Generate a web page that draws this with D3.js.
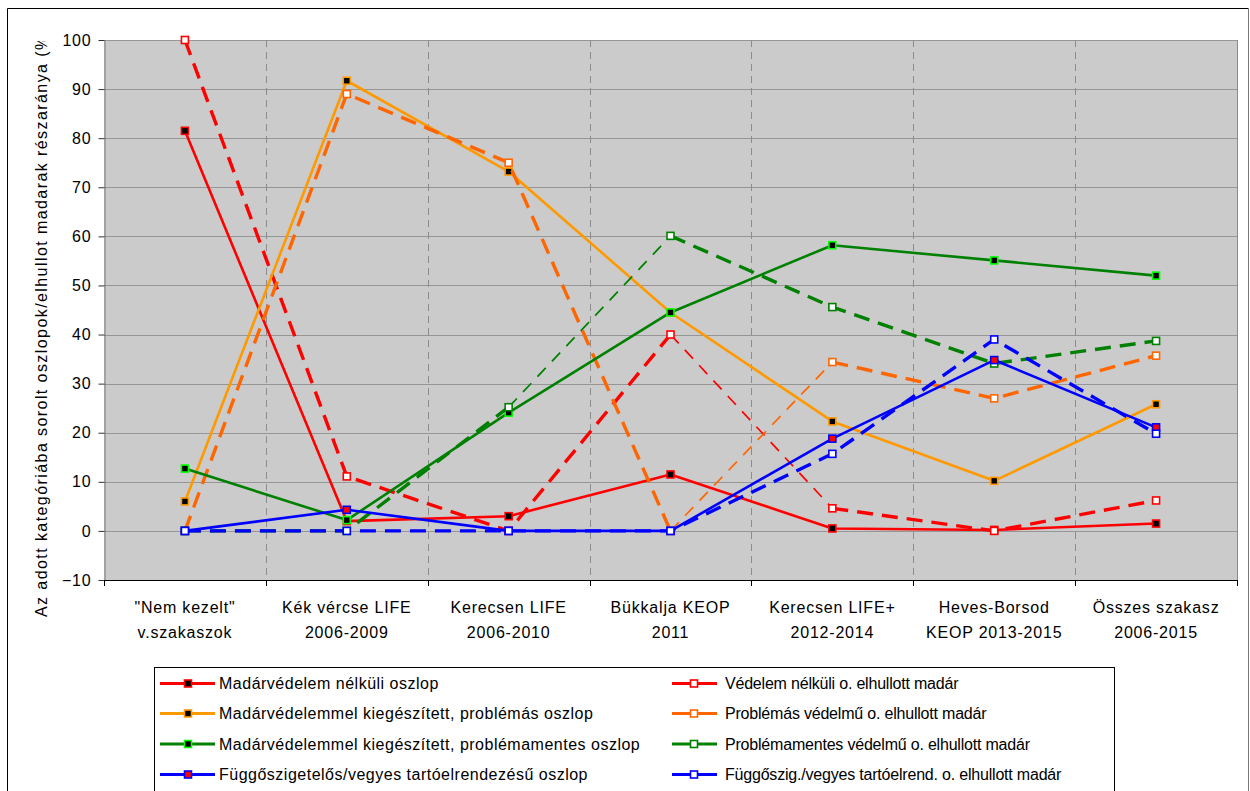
<!DOCTYPE html>
<html>
<head>
<meta charset="utf-8">
<script src="https://cdn.jsdelivr.net/npm/d3@7"></script>
<style>
  html, body { margin: 0; padding: 0; background: #fff; }
  svg { display: block; font-family: "Liberation Sans", Arial, sans-serif; }
</style>
</head>
<body>
<svg id="chart" width="1250" height="791"></svg>
<script>
// ---- data ----
const catLine1 = ['"Nem kezelt"', 'Kék vércse LIFE', 'Kerecsen LIFE', 'Bükkalja KEOP', 'Kerecsen LIFE+', 'Heves-Borsod', 'Összes szakasz'];
const catLine2 = ['v.szakaszok', '2006-2009', '2006-2010', '2011', '2012-2014', 'KEOP 2013-2015', '2006-2015'];
const yTicks = [-10, 0, 10, 20, 30, 40, 50, 60, 70, 80, 90, 100];

const seriesNames = [
  'Madárvédelem nélküli oszlop',
  'Védelem nélküli o. elhullott madár',
  'Madárvédelemmel kiegészített, problémás oszlop',
  'Problémás védelmű o. elhullott madár',
  'Madárvédelemmel kiegészített, problémamentes oszlop',
  'Problémamentes védelmű o. elhullott madár',
  'Függőszigetelős/vegyes tartóelrendezésű oszlop',
  'Függőszig./vegyes tartóelrend. o. elhullott madár'
];

const polesNoProtection   = [81.5, 2.0, 3.0, 11.5, 0.5, 0.2, 1.5];
const birdsNoProtection   = [100, 11.1, 0, 40.0, 4.6, 0, 6.2];
const polesProblematic    = [6.0, 91.7, 73.2, 44.5, 22.3, 10.2, 25.8];
const birdsProblematic    = [0, 89.0, 75.0, 0, 34.4, 27.0, 35.7];
const polesProblemFree    = [12.7, 2.2, 24.1, 44.5, 58.2, 55.1, 52.0];
const birdsProblemFree    = [0, 0, 25.2, 60.1, 45.6, 34.1, 38.7];
const polesSuspension     = [0, 4.3, 0, 0, 18.8, 34.8, 21.1];
const birdsSuspension     = [0, 0, 0, 0, 15.7, 39.0, 19.8];

const seriesValues = [
  polesNoProtection, birdsNoProtection,
  polesProblematic, birdsProblematic,
  polesProblemFree, birdsProblemFree,
  polesSuspension, birdsSuspension
];

// ---- styles (per series) ----
const seriesStyles = [
  { color: '#ff0000', dashed: false, fill: '#000000', edge: '#ff0000', thin: [] },
  { color: '#ff0000', dashed: true,  fill: '#ffffff', edge: '#ff0000', thin: [3] },
  { color: '#ff9900', dashed: false, fill: '#000000', edge: '#ff9900', thin: [] },
  { color: '#ff6600', dashed: true,  fill: '#ffffff', edge: '#ff6600', thin: [3] },
  { color: '#008000', dashed: false, fill: '#000000', edge: '#00ff00', thin: [] },
  { color: '#008000', dashed: true,  fill: '#ffffff', edge: '#008000', thin: [2] },
  { color: '#0000ff', dashed: false, fill: '#ff0000', edge: '#0000ff', thin: [] },
  { color: '#0000ff', dashed: true,  fill: '#ffffff', edge: '#0000ff', thin: [] }
];

const plot = { left: 104, right: 1237, top: 40, bottom: 580 };
const svg = d3.select('#chart');

// chart frame
svg.append('rect').attr('width', 1250).attr('height', 791).attr('fill', '#fff');
svg.append('line').attr('x1', 7.5).attr('x2', 1248.5).attr('y1', 8.5).attr('y2', 8.5).attr('stroke', '#000');
svg.append('line').attr('x1', 7.5).attr('x2', 7.5).attr('y1', 8.5).attr('y2', 791).attr('stroke', '#000');
svg.append('line').attr('x1', 1248.5).attr('x2', 1248.5).attr('y1', 8.5).attr('y2', 791).attr('stroke', '#777');

// scales
const x = d3.scaleBand().domain(d3.range(catLine1.length)).range([plot.left, plot.right]).padding(0);
const cx = i => x(i) + x.bandwidth() / 2;
const y = d3.scaleLinear().domain([-10, 100]).range([plot.bottom, plot.top]);

// plot area
svg.append('rect')
  .attr('x', plot.left).attr('y', plot.top)
  .attr('width', plot.right - plot.left).attr('height', plot.bottom - plot.top)
  .attr('fill', '#cbcbcb');

// horizontal gridlines
svg.append('g').selectAll('line').data(yTicks.filter(v => v > -10)).join('line')
  .attr('x1', plot.left).attr('x2', plot.right)
  .attr('y1', d => Math.round(y(d)) + 0.5).attr('y2', d => Math.round(y(d)) + 0.5)
  .attr('stroke', '#969696').attr('stroke-width', 1);

// vertical dashed gridlines between categories
svg.append('g').selectAll('line').data(d3.range(1, catLine1.length)).join('line')
  .attr('x1', d => Math.round(x(d)) + 0.5).attr('x2', d => Math.round(x(d)) + 0.5)
  .attr('y1', plot.top).attr('y2', plot.bottom)
  .attr('stroke', '#8c8c8c').attr('stroke-width', 1).attr('stroke-dasharray', '7,5');

// right border of plot area
svg.append('line').attr('x1', plot.right + 0.5).attr('x2', plot.right + 0.5)
  .attr('y1', plot.top).attr('y2', plot.bottom).attr('stroke', '#8c8c8c');

// y axis
const yAxis = svg.append('g')
  .attr('transform', `translate(${plot.left + 0.5},0)`)
  .call(d3.axisLeft(y).tickValues(yTicks).tickSize(6).tickPadding(7).tickSizeOuter(0));
yAxis.select('.domain').attr('stroke', '#7a7a7a');
yAxis.selectAll('.tick line').attr('stroke', '#333');
yAxis.selectAll('.tick text')
  .attr('font-size', 16).attr('fill', '#000')
  .attr('font-family', '"Liberation Sans", Arial, sans-serif')
  .style('letter-spacing', '0.8px');

// x axis (line, boundary ticks and two-line labels)
const xg = svg.append('g');
xg.append('line').attr('x1', plot.left).attr('x2', plot.right + 1)
  .attr('y1', plot.bottom + 0.5).attr('y2', plot.bottom + 0.5).attr('stroke', '#000');
const bounds = d3.range(catLine1.length + 1).map(i => i < catLine1.length ? x(i) : plot.right);
xg.selectAll('line.b').data(bounds).join('line').attr('class', 'b')
  .attr('x1', d => Math.round(d) + 0.5).attr('x2', d => Math.round(d) + 0.5)
  .attr('y1', plot.bottom).attr('y2', plot.bottom + 6).attr('stroke', '#000');
const xl = xg.selectAll('text').data(d3.range(catLine1.length)).join('text')
  .attr('text-anchor', 'middle').attr('font-size', 16).attr('fill', '#000')
  .style('letter-spacing', '0.8px');
xl.append('tspan').attr('x', d => cx(d)).attr('y', 613).text(d => catLine1[d]);
xl.append('tspan').attr('x', d => cx(d)).attr('y', 638).text(d => catLine2[d]);

// y axis title (clipped at the top of the plot area)
svg.append('clipPath').attr('id', 'ytclip')
  .append('rect').attr('x', 0).attr('y', 41).attr('width', 100).attr('height', 750);
svg.append('g').attr('clip-path', 'url(#ytclip)')
  .append('text')
  .attr('transform', 'translate(47,617) rotate(-90)')
  .attr('font-size', 16).attr('fill', '#000')
  .attr('textLength', 588).attr('lengthAdjust', 'spacing')
  .text('Az adott kategóriába sorolt oszlopok/elhullot madarak részaránya (%)');

// series lines and markers
const lineGen = d3.line().x(d => cx(d.i)).y(d => y(d.v));
const MK = 7;

seriesValues.forEach((vals, s) => {
  const st = seriesStyles[s];
  const pts = vals.map((v, i) => ({ i, v }));
  const g = svg.append('g');
  // group consecutive segments sharing the same stroke weight
  let runs = [];
  for (let k = 0; k < pts.length - 1; k++) {
    const thin = st.thin.includes(k);
    const last = runs[runs.length - 1];
    if (last && last.thin === thin) last.pts.push(pts[k + 1]);
    else runs.push({ thin, pts: [pts[k], pts[k + 1]] });
  }
  runs.forEach(r => {
    const p = g.append('path').attr('d', lineGen(r.pts))
      .attr('fill', 'none').attr('stroke', st.color)
      .attr('stroke-linejoin', 'round');
    if (!st.dashed) p.attr('stroke-width', 2.6);
    else if (r.thin) p.attr('stroke-width', 1.7).attr('stroke-dasharray', '12,9');
    else p.attr('stroke-width', 3.4).attr('stroke-dasharray', '16,9');
  });
  g.selectAll('rect').data(pts).join('rect')
    .attr('x', d => cx(d.i) - MK / 2).attr('y', d => y(d.v) - MK / 2)
    .attr('width', MK).attr('height', MK)
    .attr('fill', st.fill).attr('stroke', st.edge).attr('stroke-width', 1.6);
});

// legend
const legend = svg.append('g');
legend.append('rect').attr('x', 154.5).attr('y', 667.5).attr('width', 960).attr('height', 160)
  .attr('fill', '#fff').attr('stroke', '#000');
const rowY = [683.5, 713.5, 744, 774.5];
const cols = [
  { x1: 160, x2: 215, mx: 188, tx: 219, ls: '0.5px' },
  { x1: 672, x2: 717, mx: 694, tx: 725, ls: '-0.2px' }
];
seriesNames.forEach((name, s) => {
  const c = cols[s % 2];
  const ry = rowY[Math.floor(s / 2)];
  const st = seriesStyles[s];
  legend.append('line').attr('x1', c.x1).attr('x2', c.x2).attr('y1', ry).attr('y2', ry)
    .attr('stroke', st.color).attr('stroke-width', 3);
  legend.append('rect').attr('x', c.mx - MK / 2).attr('y', ry - MK / 2)
    .attr('width', MK).attr('height', MK)
    .attr('fill', st.fill).attr('stroke', st.edge).attr('stroke-width', 1.6);
  legend.append('text').attr('x', c.tx).attr('y', ry).attr('dy', '0.35em')
    .attr('font-size', 16).attr('fill', '#000').style('letter-spacing', c.ls)
    .text(name);
});
</script>
</body>
</html>
